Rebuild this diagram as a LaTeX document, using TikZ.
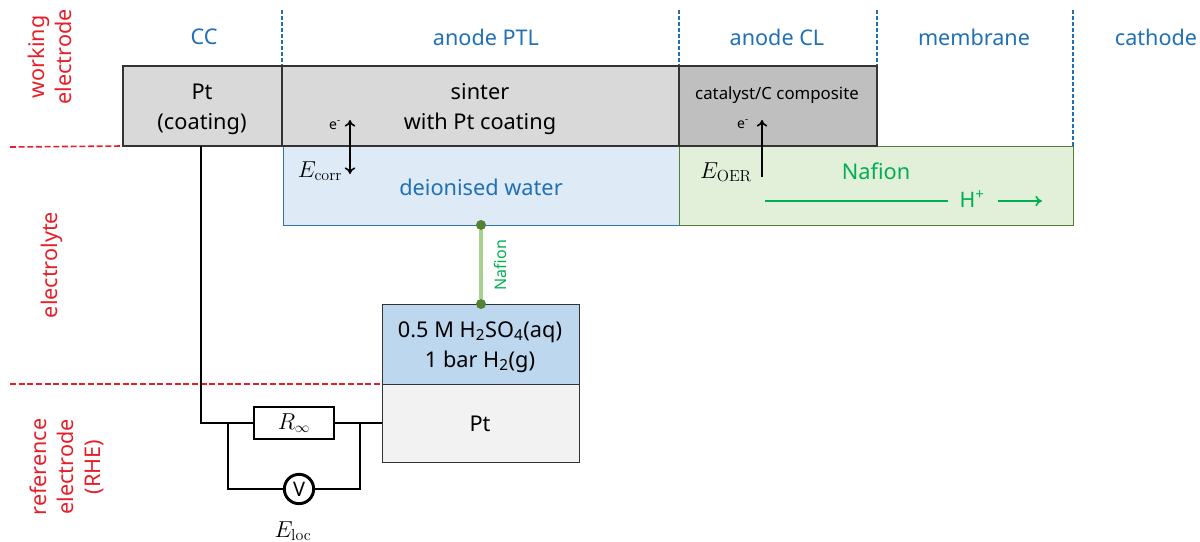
\documentclass[tikz,border=0pt]{standalone}
\usepackage[no-math]{fontspec}
\setmainfont{Noto Sans}
\usetikzlibrary{arrows.meta}

\definecolor{headblue}{RGB}{31,112,180}
\definecolor{labelred}{RGB}{230,30,40}
\definecolor{nafgreen}{RGB}{0,176,80}
\definecolor{dotgreen}{RGB}{84,130,53}

\tikzset{
  box/.style={draw=black!80,line width=1.7pt,inner sep=0pt,outer sep=0pt,anchor=north west},
  thinbox/.style={box,line width=0.7pt},
  boxtext/.style={align=center,inner sep=0pt,font=\fontsize{16.3}{22.5}\selectfont},
  head/.style={text=headblue,font=\fontsize{16.2}{20}\selectfont},
  side/.style={text=labelred,rotate=90,align=center,font=\fontsize{16.2}{20.5}\selectfont},
  bound/.style={draw=headblue,dash pattern=on 3pt off 1.5pt,line width=1.1pt},
  sep/.style={draw=labelred,dash pattern=on 4.5pt off 2pt,line width=1.2pt},
  wire/.style={draw=black,line width=1.2pt},
  arr/.style={draw=black,line width=1.2pt,-{To[length=5pt,width=8pt]}},
  sym/.style={font=\fontsize{16.5}{18}\selectfont},
  enode/.style={inner sep=0pt,font=\fontsize{10.5}{12}\selectfont},
  dot/.style={circle,fill=dotgreen,inner sep=0pt,minimum size=7.5pt},
}

\begin{document}
\begin{tikzpicture}[x=0.75pt,y=0.75pt,yscale=-1,xscale=1]
\useasboundingbox (0,0) rectangle (1200,542);

% Column boundaries
\draw [bound] (282,10) -- (282,66);
\draw [bound] (679,10) -- (679,66);
\draw [bound] (877,10) -- (877,66);
\draw [bound] (1073,10) -- (1073,146);

% Electrolyte layer
\node (water) [thinbox,fill={rgb,255:red,222;green,234;blue,246},draw={rgb,255:red,46;green,117;blue,182},minimum width=297.75pt,minimum height=59.25pt] at (283,146) {};
\node (watername) [text=headblue,font=\fontsize{16.3}{20}\selectfont] at (481,187) {deionised water};
\node (nafion) [thinbox,fill={rgb,255:red,226;green,240;blue,217},draw=dotgreen,minimum width=295.5pt,minimum height=59.25pt] at (679,146) {};

% Electrode layer
\node (cc) [box,fill={rgb,255:red,217;green,217;blue,217},minimum width=119.25pt,minimum height=60pt] at (123,66) {};
\node (ptl) [box,fill={rgb,255:red,217;green,217;blue,217},minimum width=297.75pt,minimum height=60pt] at (282,66) {};
\node (cl) [box,fill={rgb,255:red,191;green,191;blue,191},minimum width=148.5pt,minimum height=60pt] at (679,66) {};
\node (ccname) [boxtext] at (202,109) {Pt\\(coating)};
\node (ptlname) [boxtext] at (480,109) {sinter\\with Pt coating};
\node (clname) [inner sep=0pt,font=\fontsize{12.6}{15}\selectfont] at (777,95) {catalyst/C composite};

% Reference electrode
\node (acid) [thinbox,fill={rgb,255:red,189;green,215;blue,238},minimum width=147.75pt,minimum height=60pt] at (382,304) {};
\node (refpt) [thinbox,fill={rgb,255:red,242;green,242;blue,242},minimum width=147.75pt,minimum height=58.5pt] at (382,384) {};
\node (acidname) [boxtext] at (480,347) {0.5 M H\textsubscript{2}SO\textsubscript{4}(aq)\\1 bar H\textsubscript{2}(g)};
\node (refname) [boxtext] at (480,424) {Pt};

% Column titles
\node (hcc) [head] at (204,37) {CC};
\node (hptl) [head] at (486,37) {anode PTL};
\node (hcl) [head] at (777,37) {anode CL};
\node (hmem) [head] at (974,37) {membrane};
\node (hcat) [head] at (1156,37) {cathode};

% Side labels
\node (swork) [side] at (50,57) {working\\electrode};
\node (selec) [side] at (52,265) {electrolyte};
\node (sref) [side] at (67,467) {reference\\electrode\\(RHE)};
\draw [sep] (10,147) -- (cc.south west);
\draw [sep] (10,384) -- (refpt.north west);

% Salt bridge
\node (dottop) [dot] at (481,225) {};
\node (dotbot) [dot] at (481,304) {};
\draw [draw={rgb,255:red,169;green,209;blue,142},line width=2.6pt] (dottop) -- (dotbot);
\node (bridge) [text=nafgreen,rotate=90,inner sep=0pt,font=\fontsize{12}{12}\selectfont] at (500,265) {Nafion};

% Circuit
\node (rinf) [draw=black,line width=1.2pt,fill=white,outer sep=0pt,minimum width=60pt,minimum height=24pt,inner sep=0pt,font=\fontsize{16}{16}\selectfont] at (294,423) {$R_\infty$};
\node (volt) [circle,draw=black,line width=2.2pt,fill=white,outer sep=0pt,minimum size=22pt,inner sep=0pt,font=\fontsize{15}{16}\selectfont] at (299,489) {V};
\node (eloc) [sym] at (293,531) {$E_{\mathrm{loc}}$};
\coordinate (jleft) at (228,423);
\coordinate (jright) at (360,423);
\draw [wire] (201,146) |- (rinf.west);
\draw [wire] (rinf.east) -- (rinf.east -| refpt.west);
\draw [wire] (jleft) |- (volt.west);
\draw [wire] (jright) |- (volt.east);

% Electron transfer
\node (ecorr) [sym] at (320,171) {$E_{\mathrm{corr}}$};
\node (eoer) [sym] at (726,172) {$E_{\mathrm{OER}}$};
\node (e1) [enode] at (335,125) {e\textsuperscript{-}};
\node (e2) [enode] at (743,124) {e\textsuperscript{-}};
\coordinate (cortop) at (350,120);
\coordinate (corbot) at (350,174);
\coordinate (oertop) at (762,120);
\coordinate (oerbot) at (762,177);
\draw [arr,{To[length=5pt,width=8pt]}-{To[length=5pt,width=8pt]}] (cortop) -- (corbot);
\draw [arr] (oerbot) -- (oertop);

% Nafion layer text
\node (nafname) [text=nafgreen,font=\fontsize{16.3}{20}\selectfont] at (876,171) {Nafion};
\node (hion) [text=nafgreen,inner sep=0pt,font=\fontsize{16}{18}\selectfont] at (972,199) {H\textsuperscript{+}};
\coordinate (hstart) at (765,201);
\coordinate (hmid) at (948,201);
\coordinate (hgo) at (998,201);
\coordinate (hend) at (1042,201);
\draw [draw=nafgreen,line width=1.2pt] (hstart) -- (hmid);
\draw [draw=nafgreen,line width=1.2pt,-{To[length=5pt,width=8pt]}] (hgo) -- (hend);

\end{tikzpicture}
\end{document}
